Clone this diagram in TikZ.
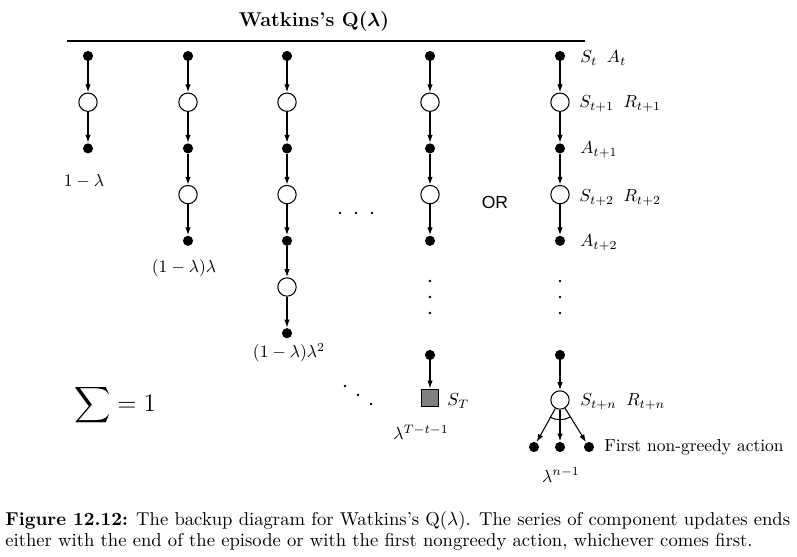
\documentclass[tikz,border=0pt]{standalone}
\usepackage{amsmath,amssymb}
\usepackage{fontspec}
\newfontfamily\orfont{Liberation Sans}
\usetikzlibrary{arrows.meta,calc}
\tikzset{
  act/.style={circle, fill=black, inner sep=0pt, minimum size=5.8pt},
  stn/.style={circle, draw=black, fill=white, line width=0.6pt, inner sep=0pt, minimum size=10.5pt},
  tiny/.style={circle, fill=black, inner sep=0pt, minimum size=1.6pt},
  termsq/.style={rectangle, draw=black, fill=black!50, line width=0.6pt, inner sep=0pt, minimum size=10pt},
  arr/.style={-{Latex[length=4.4pt,width=3.1pt]}, line width=0.6pt, shorten >=0.2pt},
  lbl/.style={inner sep=0pt, anchor=west},
}
\begin{document}
\begin{tikzpicture}[x=0.5714pt, y=-0.5714pt]
\useasboundingbox (0,0) rectangle (797,556);
% title
\node[inner sep=0pt] (title) at (314,22) {\fontsize{11.4}{13}\selectfont\bfseries Watkins's Q($\boldsymbol{\lambda}$)};
\coordinate (hl) at (67,41);
\coordinate (hr) at (585,41);
\draw[line width=0.8pt] (hl) -- (hr);
% chains
\foreach \col/\x/\n in {1/88/3, 2/188/5, 3/287/7, 4/430/5, 5/560/5} {
  \foreach \i in {1,...,\n} {
    \pgfmathsetmacro{\yy}{56+(\i-1)*46.2}
    \pgfmathparse{isodd(\i)}
    \ifnum\pgfmathresult=1
      \node[act] (c\col-\i) at (\x,\yy) {};
    \else
      \node[stn] (c\col-\i) at (\x,\yy) {};
    \fi
  }
  \foreach \i [evaluate=\i as \j using int(\i+1)] in {1,...,\n} {
    \ifnum\j>\n\else
      \draw[arr] (c\col-\i) -- (c\col-\j);
    \fi
  }
}
% column 4 tail
\node[tiny] (v41) at (430,281) {};
\node[tiny] (v42) at (430,297) {};
\node[tiny] (v43) at (430,313) {};
\node[act] (c4-a) at (430,355) {};
\node[termsq] (c4-T) at (430,398) {};
\draw[arr] (c4-a) -- (c4-T);
% column 5 tail
\node[tiny] (v51) at (560,281) {};
\node[tiny] (v52) at (560,297) {};
\node[tiny] (v53) at (560,313) {};
\node[act] (c5-a) at (560,355) {};
\node[stn] (c5-s) at (560,400) {};
\draw[arr] (c5-a) -- (c5-s);
\node[act] (b1) at (534,447) {};
\node[act] (b2) at (560,447) {};
\node[act] (b3) at (589,447) {};
\draw[arr] (c5-s) -- (b1);
\draw[arr] (c5-s) -- (b2);
\draw[arr] (c5-s) -- (b3);
\draw[line width=0.6pt] (c5-s.center) ++(240:11.3pt) arc[start angle=240, end angle=300, radius=11.3pt];
% horizontal dots
\node[tiny] (h1) at (340,213) {};
\node[tiny] (h2) at (356,213) {};
\node[tiny] (h3) at (372,213) {};
% diagonal dots
\node[tiny] (d1) at (345,386) {};
\node[tiny] (d2) at (358,395) {};
\node[tiny] (d3) at (371,404) {};
% OR
\node[inner sep=0pt] (or) at (495,202) {\orfont OR};
% weights
\node[inner sep=0pt] (w1) at (84,181) {$1-\lambda$};
\node[inner sep=0pt] (w2) at (184,268) {$(1-\lambda)\lambda$};
\node[inner sep=0pt] (w3) at (289,353) {$(1-\lambda)\lambda^2$};
\node[inner sep=0pt] (w4) at (421,432) {$\lambda^{T-t-1}$};
\node[inner sep=0pt] (w5) at (561,475) {$\lambda^{n-1}$};
\node[lbl] (lT) at (447,401) {$S_T$};
% right labels
\node[lbl] (l1) at (580,58) {$S_t\;\;A_t$};
\node[lbl] (l2) at (579,104) {$S_{t+1}\;\;R_{t+1}$};
\node[lbl] (l3) at (580,150) {$A_{t+1}$};
\node[lbl] (l4) at (579,198) {$S_{t+2}\;\;R_{t+2}$};
\node[lbl] (l5) at (580,243) {$A_{t+2}$};
\node[lbl] (l6) at (580,402) {$S_{t+n}\;\;R_{t+n}$};
\node[lbl] (l7) at (604,447) {First non-greedy action};
% sum
\node[inner sep=0pt] (sum) at (115,405) {\Large $\displaystyle\sum = 1$};
% caption
\node[inner sep=0pt, anchor=north west, align=left, font=\fontsize{10.65}{12}\selectfont] (cap) at (5,511) {\textbf{Figure 12.12:} The backup diagram for Watkins's Q($\lambda$). The series of component updates ends\\either with the end of the episode or with the first nongreedy action, whichever comes first.};
\end{tikzpicture}
\end{document}
